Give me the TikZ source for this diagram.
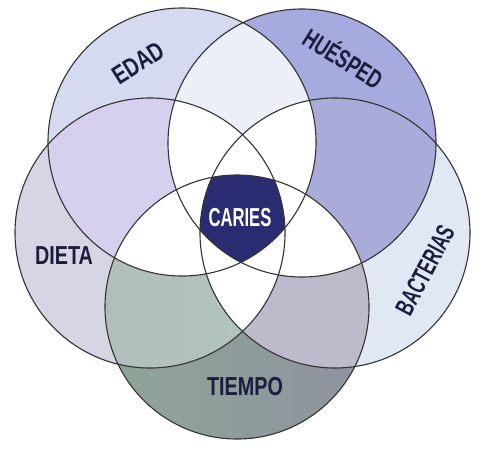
\documentclass[tikz,border=0pt]{standalone}
\usepackage{fontspec}
\newfontfamily\lblA{Liberation Sans}[FakeStretch=0.76]
\newfontfamily\lblB{Liberation Sans}[FakeStretch=0.70]
\newfontfamily\lblC{Liberation Sans}[FakeStretch=0.64]
\definecolor{cE}{HTML}{D5DAF0}
\definecolor{cH}{HTML}{A6AADE}
\definecolor{cB}{HTML}{DFE8F3}
\definecolor{cD}{HTML}{D5D5E3}
\definecolor{tL}{HTML}{8FA597}
\definecolor{tM}{HTML}{9C8CA6}
\definecolor{tR}{HTML}{8E92A0}
\definecolor{cED}{HTML}{D6D0EE}
\definecolor{cEH}{HTML}{ECEEF8}
\definecolor{cHB}{HTML}{A9ACD9}
\definecolor{cBT}{HTML}{BDBACB}
\definecolor{cTD}{HTML}{B3C6BC}
\definecolor{cariescol}{HTML}{2B2B72}
\definecolor{linecol}{HTML}{333333}
\definecolor{textcol}{HTML}{1C1C3C}
\begin{document}
\begin{tikzpicture}[x=1pt,y=-1pt,
  outline/.style={draw=linecol,line width=1.1pt},
  lblbase/.style={text=textcol,inner sep=0pt},
  lblwide/.style={lblbase,font=\lblA\bfseries\fontsize{26}{26}\selectfont},
  lblmid/.style={lblbase,font=\lblB\bfseries\fontsize{26}{26}\selectfont},
  lblnarrow/.style={lblbase,font=\lblC\bfseries\fontsize{26}{26}\selectfont}]
\useasboundingbox (0,0) rectangle (494,461);
\fill[white] (0,0) rectangle (494,461);
\def\cirE{(182,142) circle[radius=134]}
\def\cirH{(302,143) circle[radius=134]}
\def\cirB{(335,233) circle[radius=135]}
\def\cirT{(237,307) circle[radius=132]}
\def\cirD{(150,233) circle[radius=135]}
% single circles
\fill[cE] \cirE;
\fill[cH] \cirH;
\fill[cB] \cirB;
\fill[cD] \cirD;
\shade[left color=tL, middle color=tM, right color=tR] \cirT;
% adjacent overlaps
\begin{scope}\clip \cirE; \fill[cED] \cirD; \end{scope}
\begin{scope}\clip \cirE; \fill[cEH] \cirH; \end{scope}
\begin{scope}\clip \cirH; \fill[cHB] \cirB; \end{scope}
\begin{scope}\clip \cirB; \fill[cBT] \cirT; \end{scope}
\begin{scope}\clip \cirT; \shade[left color=cTD!80!tM, right color=cTD] \cirD; \end{scope}
% inner regions (three or more circles)
\begin{scope}\clip \cirE; \fill[white] \cirB; \end{scope}
\begin{scope}\clip \cirE; \fill[white] \cirT; \end{scope}
\begin{scope}\clip \cirH; \fill[white] \cirD; \end{scope}
\begin{scope}\clip \cirH; \fill[white] \cirT; \end{scope}
\begin{scope}\clip \cirD; \fill[white] \cirB; \end{scope}
% caries: intersection of all five
\begin{scope}\clip \cirE; \clip \cirH; \clip \cirB; \clip \cirT; \fill[cariescol] \cirD; \end{scope}
% outlines
\draw[outline] \cirE;
\draw[outline] \cirH;
\draw[outline] \cirB;
\draw[outline] \cirT;
\draw[outline] \cirD;
% labels
\node[lblwide, rotate=32] (edad) at (138,63) {EDAD};
\node[lblmid, rotate=-32] (huesped) at (344,57) {HUÉSPED};
\node[lblnarrow, rotate=62] (bacterias) at (425,270) {BACTERIAS};
\node[lblwide] (dieta) at (64,256) {DIETA};
\node[lblwide] (tiempo) at (245,387) {TIEMPO};
\node[lblnarrow, text=white] (caries) at (240,218) {CARIES};
\end{tikzpicture}
\end{document}
